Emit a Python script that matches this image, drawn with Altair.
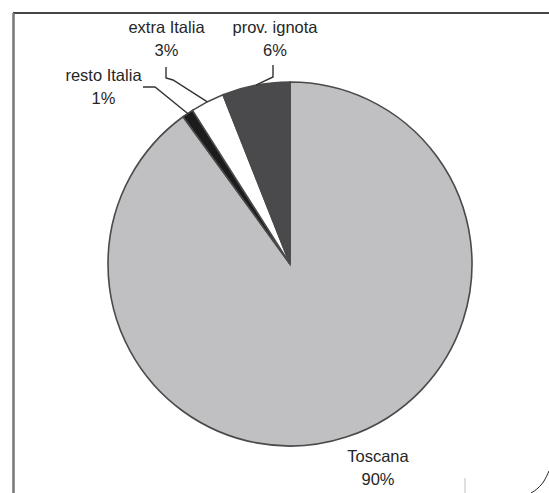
import math
import altair as alt
import pandas as pd

# ---- data ----
categories = ["Toscana", "resto Italia", "extra Italia", "prov. ignota"]
shares = [90, 1, 3, 6]
pct_labels = ["90%", "1%", "3%", "6%"]

# ---- styles / layout ----
colors = ["#c0c0c2", "#1c1c1c", "#ffffff", "#4a4a4c"]
W, H = 549, 493
CX, CY, R = 290, 264, 182
label_pos = {
    "Toscana": (378, 462),
    "resto Italia": (103.5, 81),
    "extra Italia": (166.5, 33),
    "prov. ignota": (275, 33),
}
leader_bends = {
    "resto Italia": [(143, 87), (155, 87)],
    "extra Italia": [(166, 67), (166, 78), (173, 80)],
    "prov. ignota": [(273, 65), (273, 77)],
}

pie_df = pd.DataFrame({"cat": categories, "share": shares,
                       "ord": list(range(len(categories)))})

lab_df = pd.DataFrame({
    "cat": categories,
    "text": [f"{c}\n{p}" for c, p in zip(categories, pct_labels)],
    "lx": [label_pos[c][0] for c in categories],
    "ly": [label_pos[c][1] for c in categories],
})

# leader lines: bend points + slice mid-point on the rim (computed from data)
total = sum(shares)
rows = []
cum = 0.0
for c, v in zip(categories, shares):
    mid = 2 * math.pi * (cum + v / 2) / total
    cum += v
    if c not in leader_bends:
        continue
    pts = leader_bends[c] + [(CX + R * math.sin(mid), CY - R * math.cos(mid))]
    for i, (px, py) in enumerate(pts):
        rows.append({"cat": c, "i": i, "px": px, "py": py})
lead_df = pd.DataFrame(rows)

curl_df = pd.DataFrame({"px": [549, 544, 538, 531], "py": [471, 481, 488, 493], "i": [0, 1, 2, 3]})

xs = alt.Scale(domain=[0, W], range=[0, W], nice=False, zero=False)
ys = alt.Scale(domain=[0, H], range=[0, H], nice=False, zero=False)

pie = alt.Chart(pie_df).mark_arc(
    x=CX, y=CY, outerRadius=R, stroke="#4a4a4a", strokeWidth=1.6
).encode(
    theta=alt.Theta("share:Q", stack=True),
    color=alt.Color("cat:N", scale=alt.Scale(domain=categories, range=colors), legend=None),
    order=alt.Order("ord:Q"),
)

leaders = alt.Chart(lead_df).mark_line(color="#333333", strokeWidth=1.4).encode(
    x=alt.X("px:Q", scale=xs, axis=None),
    y=alt.Y("py:Q", scale=ys, axis=None),
    detail="cat:N",
    order="i:Q",
)

labels = alt.Chart(lab_df).mark_text(
    font="Liberation Sans", fontSize=16.5, color="#262626",
    align="center", baseline="alphabetic", lineBreak="\n", lineHeight=23
).encode(
    x=alt.X("lx:Q", scale=xs, axis=None),
    y=alt.Y("ly:Q", scale=ys, axis=None),
    text="text:N",
)

frame_top = alt.Chart(pie_df).mark_rule(color="#444444", strokeWidth=1.5).encode(
    x=alt.value(13), x2=alt.value(W), y=alt.value(13), y2=alt.value(13)
)
frame_left = alt.Chart(pie_df).mark_rule(color="#777777", strokeWidth=1.6).encode(
    x=alt.value(13.5), x2=alt.value(13.5), y=alt.value(13), y2=alt.value(H)
)
faint = alt.Chart(pie_df).mark_rule(color="#dddddd", strokeWidth=1).encode(
    x=alt.value(465), x2=alt.value(465), y=alt.value(478), y2=alt.value(H)
)
curl = alt.Chart(curl_df).mark_line(color="#222222", strokeWidth=1, interpolate="monotone").encode(
    x=alt.X("px:Q", scale=xs, axis=None),
    y=alt.Y("py:Q", scale=ys, axis=None),
    order="i:Q",
)

chart = alt.layer(frame_top, frame_left, faint, pie, leaders, labels, curl).properties(
    width=W, height=H, padding=0,
    autosize=alt.AutoSizeParams(type="none"),
    background="#ffffff",
).configure_view(stroke=None)

chart.save("out.html", embed_options={"renderer": "svg", "actions": False})
